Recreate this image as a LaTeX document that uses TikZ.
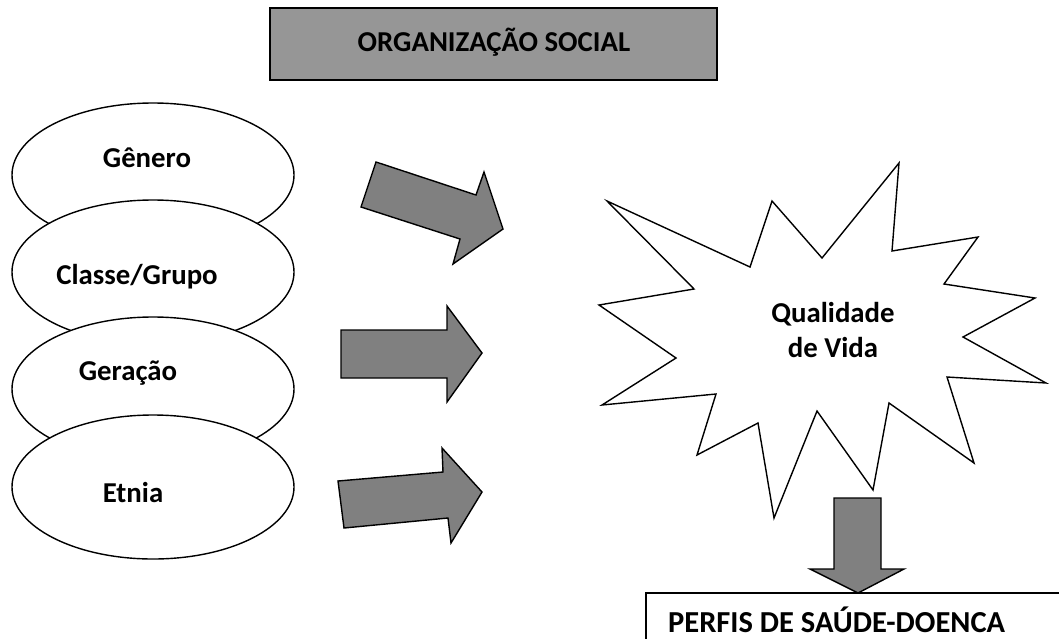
\documentclass[tikz,border=0pt]{standalone}
\usepackage{fontspec}
\setmainfont{Carlito}
\usetikzlibrary{shapes.geometric}
\definecolor{boxgray}{RGB}{150,150,150}
\definecolor{arrgray}{RGB}{128,128,128}
\tikzset{
  lbl/.style={font=\bfseries\fontsize{28.8}{34}\selectfont, inner sep=0pt, align=center},
  oval/.style={ellipse, draw=black, fill=white, line width=1.4pt, minimum width=282pt, minimum height=144pt, inner sep=0pt},
  blockarrow/.style={draw=black, fill=arrgray, line width=1.4pt, line join=miter},
  outline/.style={draw=black, line width=1.4pt, line join=miter}
}
\begin{document}
\begin{tikzpicture}[x=1pt,y=-1pt]
\useasboundingbox (0,0) rectangle (1059,638);
\begin{scope}
\clip (0,0) rectangle (1059,638);

% title box
\node[draw=black, fill=boxgray, line width=1.4pt, minimum width=447pt, minimum height=72pt, inner sep=0pt] (org) at (493.5,44) {};
\node[lbl] (orgt) at (494,42) {ORGANIZAÇÃO SOCIAL};

% ellipses
\node[oval] (gen) at (153,175) {};
\node[oval] (cla) at (153,272) {};
\node[oval] (ger) at (153,389) {};
\node[oval] (etn) at (153,487) {};
\node[lbl] (gent) at (147,158) {Gênero};
\node[lbl] (clat) at (137,277) {Classe/Grupo};
\node[lbl] (gert) at (128,373) {Geração};
\node[lbl] (etnt) at (133,492) {Etnia};

% block arrows
\draw[blockarrow] (376,162) -- (476,195) -- (484,172) -- (503,229) -- (453,264) -- (460,239) -- (361,207) -- cycle;
\draw[blockarrow] (341,330) -- (447,330) -- (447,306) -- (482,353) -- (447,402) -- (447,378) -- (341,378) -- cycle;
\draw[blockarrow] (338,481) -- (443,472) -- (442,448) -- (482,492) -- (451,543) -- (448,518) -- (344,528) -- cycle;

% star
\draw[outline, fill=white] (607,201) -- (750,267) -- (772,201) -- (822,258) -- (899,163) -- (892,251)
  -- (978,237) -- (944,284) -- (1035,298) -- (963,337) -- (1046,383) -- (947,377) -- (974,463)
  -- (889,403) -- (873,490) -- (817,411) -- (774,518) -- (758,423) -- (697,455) -- (716,394)
  -- (602,405) -- (676,358) -- (599,305) -- (694,289) -- cycle;
\node[lbl] (qv) at (833,330) {Qualidade\\[1pt]de Vida};

% bottom box
\draw[outline, fill=white] (646,593) rectangle (1080,700);
\coordinate (pbox) at (858,593);
\node[lbl, anchor=west, font=\bfseries\fontsize{30.5}{34}\selectfont] (perf) at (668,620) {PERFIS DE SAÚDE-DOENCA};

% down arrow
\draw[blockarrow] (834,498) -- (881,498) -- (881,569) -- (904,569) -- (pbox) -- (810,569) -- (834,569) -- cycle;
\end{scope}
\end{tikzpicture}
\end{document}
